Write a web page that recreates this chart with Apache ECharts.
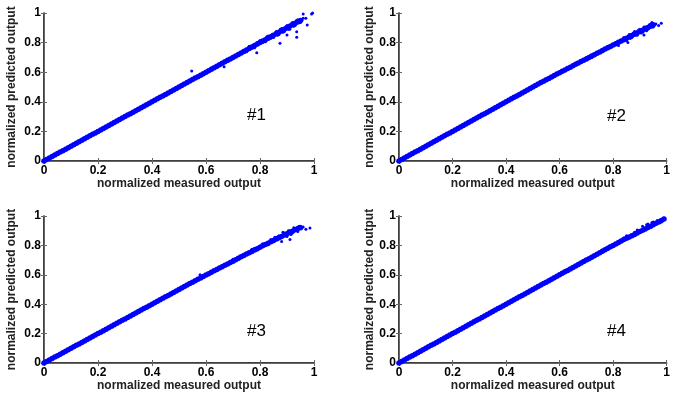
<!DOCTYPE html>
<html>
<head>
<meta charset="utf-8">
<script src="https://cdn.jsdelivr.net/npm/echarts@6/dist/echarts.min.js"></script>
<style>
  html, body { margin: 0; padding: 0; background: #fff; }
  #chart { width: 673px; height: 397px; }
</style>
</head>
<body>
<div id="chart"></div>
<script>
// shared measured-output grid (x)
const measured = [
  0.00, 0.01, 0.02, 0.03, 0.04, 0.05, 0.06, 0.07, 0.08, 0.09,
  0.10, 0.11, 0.12, 0.13, 0.14, 0.15, 0.16, 0.17, 0.18, 0.19,
  0.20, 0.21, 0.22, 0.23, 0.24, 0.25, 0.26, 0.27, 0.28, 0.29,
  0.30, 0.31, 0.32, 0.33, 0.34, 0.35, 0.36, 0.37, 0.38, 0.39,
  0.40, 0.41, 0.42, 0.43, 0.44, 0.45, 0.46, 0.47, 0.48, 0.49,
  0.50, 0.51, 0.52, 0.53, 0.54, 0.55, 0.56, 0.57, 0.58, 0.59,
  0.60, 0.61, 0.62, 0.63, 0.64, 0.65, 0.66, 0.67, 0.68, 0.69,
  0.70, 0.71, 0.72, 0.73, 0.74, 0.75, 0.76, 0.77, 0.78, 0.79,
  0.80, 0.81, 0.82, 0.83, 0.84, 0.85, 0.86, 0.87, 0.88, 0.89,
  0.90, 0.91, 0.92, 0.93, 0.94, 0.95, 0.96, 0.97, 0.98, 0.99
];

// predicted output along the band, one per measured value
const predicted1 = [
  0.00, 0.01, 0.02, 0.03, 0.04, 0.05, 0.06, 0.07, 0.08, 0.09,
  0.10, 0.11, 0.12, 0.13, 0.14, 0.15, 0.16, 0.17, 0.18, 0.19,
  0.20, 0.21, 0.22, 0.23, 0.24, 0.25, 0.26, 0.27, 0.28, 0.29,
  0.30, 0.31, 0.32, 0.33, 0.34, 0.35, 0.36, 0.37, 0.38, 0.39,
  0.40, 0.41, 0.42, 0.43, 0.44, 0.45, 0.46, 0.47, 0.48, 0.49,
  0.50, 0.51, 0.52, 0.53, 0.54, 0.55, 0.56, 0.57, 0.58, 0.59,
  0.60, 0.61, 0.62, 0.63, 0.64, 0.65, 0.66, 0.67, 0.68, 0.69,
  0.70, 0.71, 0.72, 0.73, 0.74, 0.75, 0.76, 0.77, 0.78, 0.79,
  0.80, 0.81, 0.82, 0.83, 0.84, 0.85, 0.86, 0.87, 0.88, 0.89,
  0.90, 0.91, 0.92, 0.93, 0.94, 0.95
];
const predicted2 = [
  0.00, 0.01, 0.02, 0.03, 0.04, 0.05, 0.06, 0.07, 0.08, 0.09,
  0.10, 0.11, 0.12, 0.13, 0.14, 0.15, 0.16, 0.17, 0.18, 0.19,
  0.20, 0.21, 0.22, 0.23, 0.24, 0.25, 0.26, 0.27, 0.28, 0.29,
  0.30, 0.31, 0.32, 0.33, 0.34, 0.35, 0.36, 0.37, 0.38, 0.39,
  0.40, 0.41, 0.42, 0.43, 0.44, 0.45, 0.46, 0.47, 0.48, 0.49,
  0.50, 0.51, 0.52, 0.53, 0.539, 0.549, 0.558, 0.568, 0.577, 0.587,
  0.596, 0.606, 0.615, 0.625, 0.634, 0.643, 0.653, 0.662, 0.672, 0.681,
  0.690, 0.700, 0.709, 0.718, 0.728, 0.737, 0.746, 0.756, 0.765, 0.774,
  0.783, 0.793, 0.802, 0.811, 0.820, 0.829, 0.838, 0.848, 0.857, 0.866,
  0.875, 0.884, 0.893, 0.902, 0.911, 0.92
];
const predicted3 = [
  0.00, 0.01, 0.02, 0.03, 0.04, 0.05, 0.06, 0.07, 0.08, 0.09,
  0.10, 0.11, 0.12, 0.13, 0.14, 0.15, 0.16, 0.17, 0.18, 0.19,
  0.20, 0.21, 0.22, 0.23, 0.24, 0.25, 0.26, 0.27, 0.28, 0.29,
  0.30, 0.31, 0.32, 0.33, 0.34, 0.35, 0.36, 0.37, 0.38, 0.39,
  0.40, 0.41, 0.42, 0.43, 0.44, 0.45, 0.46, 0.47, 0.48, 0.49,
  0.50, 0.51, 0.52, 0.53, 0.54, 0.55, 0.559, 0.569, 0.579, 0.588,
  0.598, 0.607, 0.617, 0.627, 0.636, 0.646, 0.655, 0.665, 0.674, 0.684,
  0.693, 0.703, 0.712, 0.722, 0.731, 0.741, 0.750, 0.759, 0.769, 0.778,
  0.787, 0.797, 0.806, 0.815, 0.824, 0.834, 0.843, 0.852, 0.861, 0.870,
  0.879, 0.888, 0.897, 0.906, 0.915, 0.92
];
const predicted4 = [
  0.00, 0.01, 0.02, 0.03, 0.04, 0.05, 0.06, 0.07, 0.08, 0.09,
  0.10, 0.11, 0.12, 0.13, 0.14, 0.15, 0.16, 0.17, 0.18, 0.19,
  0.20, 0.21, 0.22, 0.23, 0.24, 0.25, 0.26, 0.27, 0.28, 0.29,
  0.30, 0.31, 0.32, 0.33, 0.34, 0.35, 0.36, 0.37, 0.38, 0.39,
  0.40, 0.41, 0.42, 0.43, 0.44, 0.45, 0.46, 0.47, 0.48, 0.49,
  0.50, 0.51, 0.52, 0.53, 0.54, 0.55, 0.56, 0.57, 0.58, 0.59,
  0.60, 0.61, 0.62, 0.63, 0.64, 0.65, 0.66, 0.67, 0.68, 0.69,
  0.70, 0.71, 0.72, 0.73, 0.74, 0.75, 0.76, 0.77, 0.78, 0.79,
  0.80, 0.81, 0.82, 0.83, 0.84, 0.848, 0.857, 0.866, 0.875, 0.885,
  0.894, 0.903, 0.912, 0.922, 0.931, 0.94, 0.95, 0.96, 0.97, 0.98
];

// loose points around the top of each band and the odd outliers
const scatter1 = [
  [0.62, 0.628], [0.64, 0.633], [0.66, 0.668], [0.68, 0.672], [0.70, 0.708],
  [0.72, 0.712], [0.74, 0.748], [0.75, 0.738], [0.76, 0.775], [0.77, 0.762],
  [0.78, 0.765], [0.79, 0.80], [0.80, 0.815], [0.81, 0.80], [0.82, 0.805],
  [0.825, 0.84], [0.83, 0.845], [0.84, 0.83], [0.845, 0.855], [0.85, 0.835],
  [0.86, 0.875], [0.865, 0.85], [0.87, 0.855], [0.875, 0.89], [0.88, 0.895],
  [0.885, 0.87], [0.89, 0.875], [0.895, 0.905], [0.90, 0.915], [0.905, 0.89],
  [0.91, 0.89], [0.915, 0.925], [0.92, 0.935], [0.925, 0.91], [0.93, 0.915],
  [0.935, 0.95], [0.94, 0.955], [0.95, 0.935], [0.96, 0.965], [0.945, 0.945],
  [0.955, 0.95], [0.547, 0.608], [0.667, 0.637], [0.788, 0.732], [0.874, 0.795],
  [0.90, 0.851], [0.936, 0.874], [0.936, 0.836], [0.975, 0.919], [0.97, 0.964],
  [0.96, 0.993], [0.991, 0.993], [0.995, 1.0]
];
const scatter2 = [
  [0.66, 0.66], [0.68, 0.665], [0.70, 0.70], [0.72, 0.70], [0.74, 0.735],
  [0.76, 0.738], [0.78, 0.775], [0.79, 0.768], [0.80, 0.78], [0.81, 0.80],
  [0.82, 0.78], [0.83, 0.81], [0.84, 0.835], [0.85, 0.815], [0.86, 0.855],
  [0.865, 0.83], [0.87, 0.835], [0.875, 0.865], [0.88, 0.875], [0.885, 0.855],
  [0.89, 0.85], [0.895, 0.885], [0.90, 0.89], [0.905, 0.865], [0.91, 0.87],
  [0.915, 0.905], [0.92, 0.905], [0.925, 0.88], [0.93, 0.89], [0.935, 0.92],
  [0.94, 0.925], [0.95, 0.905], [0.945, 0.935], [0.96, 0.925], [0.97, 0.915],
  [0.98, 0.93], [0.855, 0.80], [0.915, 0.851]
];
const scatter3 = [
  [0.66, 0.664], [0.68, 0.67], [0.70, 0.705], [0.72, 0.705], [0.74, 0.74],
  [0.76, 0.745], [0.77, 0.773], [0.78, 0.78], [0.79, 0.77], [0.80, 0.79],
  [0.81, 0.812], [0.82, 0.81], [0.83, 0.805], [0.84, 0.84], [0.85, 0.825],
  [0.855, 0.855], [0.86, 0.855], [0.865, 0.838], [0.87, 0.865], [0.875, 0.85],
  [0.88, 0.827], [0.885, 0.89], [0.89, 0.885], [0.895, 0.865], [0.90, 0.86],
  [0.905, 0.90], [0.91, 0.90], [0.911, 0.84], [0.915, 0.875], [0.92, 0.884],
  [0.925, 0.92], [0.93, 0.915], [0.94, 0.895], [0.945, 0.93], [0.95, 0.93],
  [0.96, 0.925], [0.97, 0.91], [0.985, 0.918], [0.578, 0.60]
];
const scatter4 = [
  [0.76, 0.768], [0.78, 0.775], [0.80, 0.805], [0.82, 0.812], [0.83, 0.825],
  [0.84, 0.85], [0.85, 0.865], [0.86, 0.85], [0.87, 0.86], [0.88, 0.89],
  [0.89, 0.905], [0.90, 0.89], [0.91, 0.93], [0.915, 0.905], [0.92, 0.91],
  [0.925, 0.94], [0.93, 0.945], [0.94, 0.925], [0.945, 0.955], [0.95, 0.96],
  [0.96, 0.945], [0.965, 0.97], [0.97, 0.965], [0.98, 0.96], [0.99, 0.985]
];

const tickLabels = ['0', '0.2', '0.4', '0.6', '0.8', '1'];
const panelNames = ['#1', '#2', '#3', '#4'];

const bands = [predicted1, predicted2, predicted3, predicted4];
const loose = [scatter1, scatter2, scatter3, scatter4];

const grids = [
  { left: 44, top: 13, width: 270, height: 148 },
  { left: 399, top: 13, width: 270, height: 148 },
  { left: 44, top: 216, width: 270, height: 147 },
  { left: 399, top: 216, width: 271, height: 147 }
];
const yNameGap = [26, 21, 26, 21];
const namePos = [[247, 117], [607, 118], [247, 333], [607, 333]];

const labelFont = 'Liberation Sans, Arial, sans-serif';

function fmt(v) {
  return tickLabels[Math.round(v / 0.2)];
}

const xAxis = [];
const yAxis = [];
const series = [];
const graphic = [];

grids.forEach((g, i) => {
  const base = {
    type: 'value', min: 0, max: 1, interval: 0.2, gridIndex: i,
    splitLine: { show: false },
    axisTick: { inside: true, length: 3, lineStyle: { color: '#666', width: 1 } }
  };
  xAxis.push(Object.assign({}, base, {
    position: 'bottom',
    name: 'normalized measured output',
    nameLocation: 'middle',
    nameGap: 17,
    nameTextStyle: { fontFamily: labelFont, fontWeight: 'bold', fontSize: 12, color: '#222' },
    axisLine: { lineStyle: { color: '#000', width: 1.5 } },
    axisLabel: { formatter: fmt, margin: 4, fontFamily: labelFont, fontWeight: 'bold', fontSize: 12, color: '#000' }
  }));
  xAxis.push(Object.assign({}, base, {
    position: 'top',
    axisLine: { lineStyle: { color: '#666', width: 1 } },
    axisLabel: { show: false }
  }));
  yAxis.push(Object.assign({}, base, {
    position: 'left',
    name: 'normalized predicted output',
    nameLocation: 'middle',
    nameGap: yNameGap[i],
    nameTextStyle: { fontFamily: labelFont, fontWeight: 'bold', fontSize: 12, color: '#222' },
    axisLine: { lineStyle: { color: '#000', width: 1.5 } },
    axisLabel: { formatter: fmt, margin: 3, fontFamily: labelFont, fontWeight: 'bold', fontSize: 12, color: '#000' }
  }));
  yAxis.push(Object.assign({}, base, {
    position: 'right',
    axisLine: { lineStyle: { color: '#666', width: 1 } },
    axisLabel: { show: false }
  }));

  const band = bands[i].map((y, k) => [measured[k], y]);
  series.push({
    type: 'scatter', xAxisIndex: i * 2, yAxisIndex: i * 2,
    data: band, symbolSize: 5.5, silent: true,
    itemStyle: { color: '#0000ff', opacity: 1 }
  });
  series.push({
    type: 'scatter', xAxisIndex: i * 2, yAxisIndex: i * 2,
    data: loose[i], symbolSize: 3, silent: true,
    itemStyle: { color: '#0000ff', opacity: 1 }
  });

  graphic.push({
    type: 'text', left: namePos[i][0], top: namePos[i][1] - 10,
    style: { text: panelNames[i], font: '17px ' + labelFont, fill: '#000' }
  });
});

// the top/right axes only mirror the ticks
const option = {
  animation: false,
  backgroundColor: '#fff',
  grid: grids,
  xAxis: xAxis,
  yAxis: yAxis,
  series: series,
  graphic: graphic
};

const chart = echarts.init(document.getElementById('chart'));
chart.setOption(option);
</script>
</body>
</html>
